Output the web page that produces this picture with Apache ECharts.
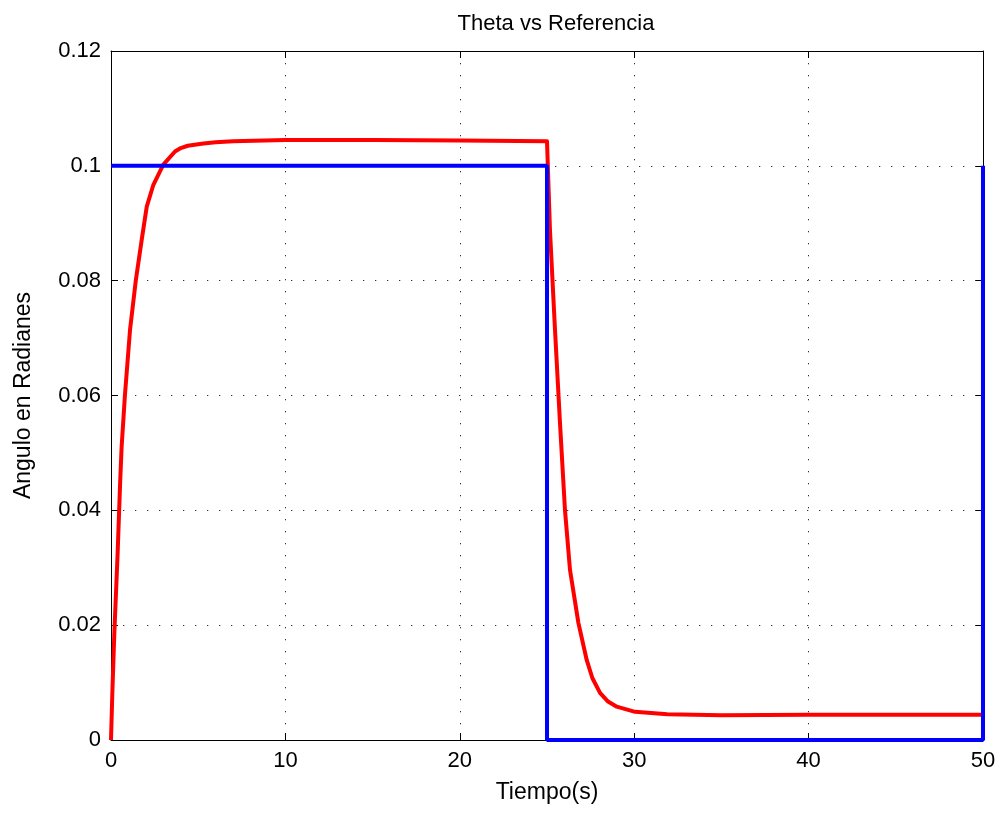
<!DOCTYPE html>
<html>
<head>
<meta charset="utf-8">
<script src="https://cdn.jsdelivr.net/npm/echarts@6/dist/echarts.min.js"></script>
<style>
  html, body { margin: 0; padding: 0; background: #fff; }
  #chart { width: 1003px; height: 813px; }
</style>
</head>
<body>
<div id="chart"></div>
<script>
// Angle response (theta) sampled over time, in seconds / radians
const thetaTime = [0, 0.08, 0.19, 0.38, 0.52, 0.61, 0.8, 1.09, 1.42, 1.76, 2.05, 2.43, 3.0, 3.67, 4.0, 4.4, 5.3, 6, 7, 10, 15, 20, 25,
  25.17, 25.46, 25.74, 26.03, 26.32, 26.8, 27.28, 27.6, 28.04, 28.5, 29.0, 30.05, 31.9, 35, 40, 45, 50];
const thetaValues = [0, 0.0085, 0.0185, 0.0325, 0.0445, 0.0511, 0.0601, 0.0714, 0.08, 0.0871, 0.0929, 0.0967, 0.1002, 0.1025, 0.1031, 0.1035, 0.1039, 0.1041, 0.1043, 0.1045, 0.1045, 0.1044, 0.1043,
  0.0888, 0.0714, 0.0555, 0.0401, 0.0296, 0.0204, 0.0139, 0.0108, 0.0082, 0.0067, 0.0058, 0.0049, 0.0045, 0.0043, 0.0044, 0.0044, 0.0044];

// Reference square step
const refTime = [0, 25, 25, 50, 50];
const refValues = [0.1, 0.1, 0, 0, 0.1];

// Axis ticks
const xTickLabels = ['0', '10', '20', '30', '40', '50'];
const yTickLabels = ['0', '0.02', '0.04', '0.06', '0.08', '0.1', '0.12'];

const FONT = "'Liberation Sans', Arial, Helvetica, sans-serif";
const pair = (xs, ys) => xs.map((x, i) => [x, ys[i]]);

const gridDots = { show: true, lineStyle: { color: '#333', width: 1, type: [1.3, 10.7] } };
const boxLine = { show: true, onZero: false, lineStyle: { color: '#000', width: 1 } };
const tickIn = { show: true, inside: true, length: 7, lineStyle: { color: '#000', width: 1 } };

const chart = echarts.init(document.getElementById('chart'), null, { renderer: 'canvas' });
chart.setOption({
  animation: false,
  backgroundColor: '#fff',
  title: {
    text: 'Theta vs Referencia',
    left: 551, top: 8, textAlign: 'center',
    textStyle: { fontFamily: FONT, fontSize: 22, fontWeight: 'normal', color: '#000' }
  },
  grid: { left: 111, right: 20, top: 51, bottom: 73 },
  xAxis: [
    {
      type: 'value', min: 0, max: 50, interval: 10, position: 'bottom',
      name: 'Tiempo(s)', nameLocation: 'middle', nameGap: 41,
      nameTextStyle: { fontFamily: FONT, fontSize: 23, color: '#000' },
      axisLine: boxLine, axisTick: tickIn, splitLine: gridDots,
      axisLabel: {
        margin: 10, fontFamily: FONT, fontSize: 22, color: '#000',
        formatter: v => xTickLabels[Math.round(v / 10)]
      }
    },
    {
      type: 'value', min: 0, max: 50, interval: 10, position: 'top',
      axisLine: boxLine, axisTick: tickIn, axisLabel: { show: false }, splitLine: { show: false }
    }
  ],
  yAxis: [
    {
      type: 'value', min: 0, max: 0.12, interval: 0.02, position: 'left',
      name: 'Angulo en Radianes', nameLocation: 'middle', nameGap: 76,
      nameTextStyle: { fontFamily: FONT, fontSize: 23, color: '#000' },
      axisLine: boxLine, axisTick: tickIn, splitLine: gridDots,
      axisLabel: {
        margin: 10, fontFamily: FONT, fontSize: 22, color: '#000',
        formatter: v => yTickLabels[Math.round(v / 0.02)]
      }
    },
    {
      type: 'value', min: 0, max: 0.12, interval: 0.02, position: 'right',
      axisLine: boxLine, axisTick: tickIn, axisLabel: { show: false }, splitLine: { show: false }
    }
  ],
  series: [
    {
      name: 'Theta', type: 'line', data: pair(thetaTime, thetaValues),
      showSymbol: false, smooth: false,
      lineStyle: { color: '#ff0000', width: 4, join: 'round' }
    },
    {
      name: 'Referencia', type: 'line', data: pair(refTime, refValues),
      showSymbol: false, smooth: false,
      lineStyle: { color: '#0000ff', width: 4 }
    }
  ]
});
</script>
</body>
</html>
